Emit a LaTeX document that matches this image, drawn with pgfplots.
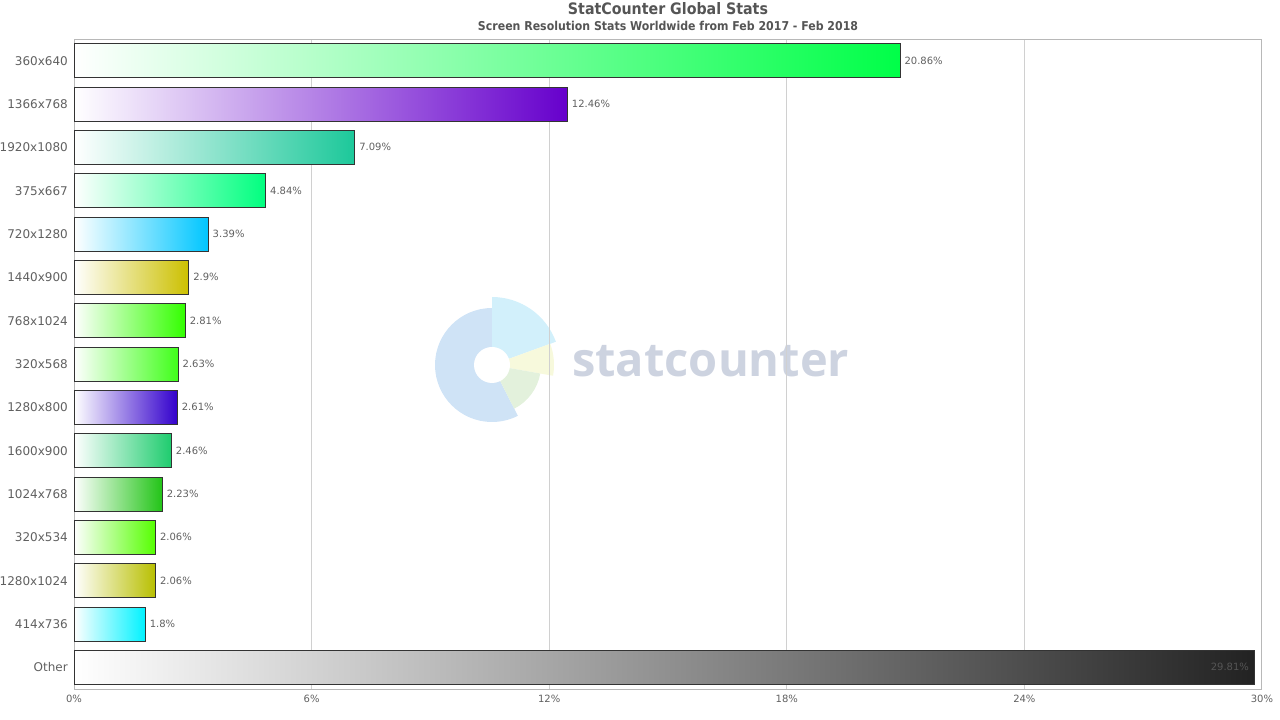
\documentclass[border=0pt]{standalone}
\usepackage{pgfplots}
\pgfplotsset{compat=1.18}
\usepackage{fontspec}
\setmainfont{DejaVu Sans}
\newfontfamily\condfont{DejaVu Sans Condensed}
\newfontfamily\logofont{Open Sans}
\definecolor{txtgray}{HTML}{555555}
\definecolor{lblgray}{HTML}{606060}
\definecolor{gridgray}{HTML}{D0D0D0}
\definecolor{axgray}{HTML}{B8B8B8}
\definecolor{barline}{HTML}{333333}
\definecolor{wmblue}{HTML}{CFE3F6}
\definecolor{wmcyan}{HTML}{D2F0FB}
\definecolor{wmyellow}{HTML}{F7F9DC}
\definecolor{wmgreen}{HTML}{E3F1DC}
\definecolor{wmtext}{HTML}{CDD3E0}
\definecolor{c1}{HTML}{00FF48}
\definecolor{c2}{HTML}{6600CC}
\definecolor{c3}{HTML}{1CC89A}
\definecolor{c4}{HTML}{00FF7F}
\definecolor{c5}{HTML}{00C6FF}
\definecolor{c6}{HTML}{CCC000}
\definecolor{c7}{HTML}{33FF00}
\definecolor{c8}{HTML}{40FF1A}
\definecolor{c9}{HTML}{3300CC}
\definecolor{c10}{HTML}{1ECC6E}
\definecolor{c11}{HTML}{22C417}
\definecolor{c12}{HTML}{55FF00}
\definecolor{c13}{HTML}{B8BF00}
\definecolor{c14}{HTML}{00F2FF}
\definecolor{c15}{HTML}{222222}
\begin{document}
\begin{tikzpicture}
% watermark
\fill[wmblue] (492bp,355bp) -- ++(90:57bp) arc[start angle=90,end angle=297,radius=57bp] -- cycle;
\fill[wmcyan] (492bp,355bp) -- ++(20:68bp) arc[start angle=20,end angle=90,radius=68bp] -- cycle;
\fill[wmyellow] (492bp,355bp) -- ++(-10:62bp) arc[start angle=-10,end angle=20,radius=62bp] -- cycle;
\fill[wmgreen] (492bp,355bp) -- ++(-63:49bp) arc[start angle=-63,end angle=-10,radius=49bp] -- cycle;
\fill[white] (492bp,355bp) circle[radius=18bp];
\node[anchor=base west, inner sep=0pt, text=wmtext, font=\logofont\bfseries\fontsize{47bp}{47bp}\selectfont] at (572bp,343.3bp) {statcounter};
% titles
\node[anchor=base, inner sep=0pt, text=txtgray, font=\condfont\bfseries\fontsize{15.8bp}{18bp}\selectfont] at (668bp,705bp) {StatCounter Global Stats};
\node[anchor=base, inner sep=0pt, text=txtgray, font=\condfont\bfseries\fontsize{12.2bp}{14bp}\selectfont] at (668bp,689.5bp) {Screen Resolution Stats Worldwide from Feb 2017 - Feb 2018};
\begin{axis}[
  at={(74bp,31bp)}, anchor=south west,
  width=1188bp, height=650bp, scale only axis,
  xmin=0, xmax=30, ymin=-0.5, ymax=14.5, y dir=reverse,
  xtick={0,6,12,18,24,30},
  xticklabel={\pgfmathprintnumber{\tick}\%},
  ytick={0,1,...,14},
  yticklabels={360x640,1366x768,1920x1080,375x667,720x1280,1440x900,768x1024,320x568,1280x800,1600x900,1024x768,320x534,1280x1024,414x736,Other},
  /pgf/number format/assume math mode=true,
  xmajorgrids, grid style={color=gridgray, line width=1bp},
  axis line style={color=axgray, line width=1bp},
  major tick length=0pt,
  xticklabel style={font=\fontsize{10bp}{12bp}\selectfont, text=lblgray, inner sep=0pt, yshift=-6bp},
  yticklabel style={font=\fontsize{12bp}{14bp}\selectfont, text=lblgray, inner sep=0pt, xshift=-6bp},
  xbar, bar width=34bp, bar shift=0pt,
  point meta=x,
  nodes near coords={\pgfmathprintnumber{\pgfplotspointmeta}\%},
  every node near coord/.style={anchor=west, inner sep=0pt, xshift=4bp, text=lblgray, font=\fontsize{10bp}{12bp}\selectfont},
  every axis plot/.append style={draw=barline, line width=1bp, left color=white},
  clip=false,
]
\addplot[right color=c1] coordinates {(20.86,0)};
\addplot[right color=c2] coordinates {(12.46,1)};
\addplot[right color=c3] coordinates {(7.09,2)};
\addplot[right color=c4] coordinates {(4.84,3)};
\addplot[right color=c5] coordinates {(3.39,4)};
\addplot[right color=c6] coordinates {(2.9,5)};
\addplot[right color=c7] coordinates {(2.81,6)};
\addplot[right color=c8] coordinates {(2.63,7)};
\addplot[right color=c9] coordinates {(2.61,8)};
\addplot[right color=c10] coordinates {(2.46,9)};
\addplot[right color=c11] coordinates {(2.23,10)};
\addplot[right color=c12] coordinates {(2.06,11)};
\addplot[right color=c13] coordinates {(2.06,12)};
\addplot[right color=c14] coordinates {(1.8,13)};
\addplot[right color=c15, every node near coord/.style={anchor=east, inner sep=0pt, xshift=-5bp, text=txtgray, font=\fontsize{10bp}{12bp}\selectfont}] coordinates {(29.81,14)};
\end{axis}
\pgfresetboundingbox
\useasboundingbox (0bp,0bp) rectangle (1280bp,720bp);
\end{tikzpicture}
\end{document}
